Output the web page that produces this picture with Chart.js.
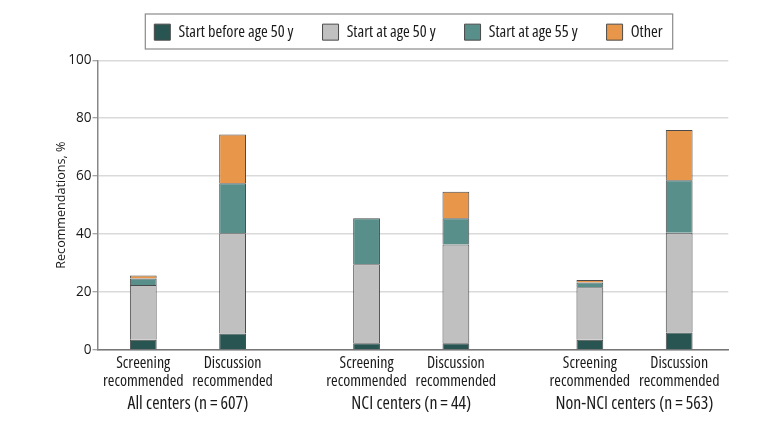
<!DOCTYPE html>
<html><head><meta charset="utf-8">
<script src="https://cdn.jsdelivr.net/npm/chart.js@4.4.1/dist/chart.umd.min.js"></script>
<style>html,body{margin:0;padding:0;background:#fff}#wrap{width:780px;height:423px}</style>
</head><body><div id="wrap"><canvas id="c" width="780" height="423"></canvas></div>
<script>
// ---- data ----
const groups = ['All centers (n\u2009=\u2009607)', 'NCI centers (n\u2009=\u200944)', 'Non-NCI centers (n\u2009=\u2009563)'];
const barTypes = [['Screening', 'recommended'], ['Discussion', 'recommended']];
const seriesNames = ['Start before age 50 y', 'Start at age 50 y', 'Start at age 55 y', 'Other'];
const screenBefore50 = [3.5, 2.3, 3.5];
const screenAt50 = [18.9, 27.3, 18.2];
const screenAt55 = [2.3, 15.9, 1.6];
const screenOther = [1.0, 0, 0.9];
const discBefore50 = [5.7, 2.3, 6.0];
const discAt50 = [34.6, 34.1, 34.5];
const discAt55 = [17.3, 9.1, 18.1];
const discOther = [16.8, 9.1, 17.3];
const yTicks = [0, 20, 40, 60, 80, 100];
const yTitle = 'Recommendations, %';

// ---- styles ----
const seriesColors = ['#285451', '#c0c0c0', '#588f8b', '#e8974a'];
const COND = "'Open Sans','Noto Sans',sans-serif";
const SANS = "'Open Sans','Noto Sans',sans-serif";
const CAT_PCT = 0.8;
const X_MIN = -0.405, X_MAX = 2.42;
const LEGEND_SHIFT = -4.4;

// font sizes fitted to the text widths of the reference
const mctx = document.createElement('canvas').getContext('2d');
function fitSize(text, prefix, family, target) {
  mctx.font = prefix + ' 100px ' + family;
  return Math.round(100 * target / mctx.measureText(text).width * 10) / 10;
}
const legendSize = fitSize(seriesNames[0], 'condensed', COND, 115);
const subSize = fitSize(barTypes[0][1], 'condensed', COND, 80.5);
const groupSize = (fitSize(groups[0], 'condensed', COND, 118) + fitSize(groups[2], 'condensed', COND, 161)) / 2;
const yTickSize = fitSize('100', 'normal', SANS, 23.4);
const yTitleSize = fitSize(yTitle, 'normal', SANS, 127);

const stacks = [
  { key: 'screening', series: [screenBefore50, screenAt50, screenAt55, screenOther] },
  { key: 'discussion', series: [discBefore50, discAt50, discAt55, discOther] }
];
const datasets = [];
stacks.forEach(st => st.series.forEach((vals, s) => datasets.push({
  label: seriesNames[s],
  stack: st.key,
  data: vals.map((v, i) => ({ x: i, y: v })),
  backgroundColor: seriesColors[s],
  borderColor: '#4a4a4a',
  borderWidth: { top: 1, left: 1, right: 1, bottom: 0 },
  borderSkipped: false,
  categoryPercentage: CAT_PCT,
  barPercentage: 0.3
})));

const subTickValues = [];
groups.forEach((g, i) => barTypes.forEach((b, j) => subTickValues.push(i + (j - 0.5) * CAT_PCT / 2)));

Chart.defaults.color = '#1a1a1a';

const legendFrame = {
  id: 'legendFrame',
  beforeInit(chart) {
    const lg = chart.legend;
    if (lg) {
      const f = lg.fit;
      lg.fit = function () { f.call(this); this.height += 10; };
      const d = lg.draw;
      lg.draw = function (area) {
        const ctx = this.ctx;
        ctx.save();
        ctx.translate(LEGEND_SHIFT, 0);
        d.call(this, area);
        ctx.restore();
      };
    }
  },
  afterDraw(chart) {
    const lg = chart.legend;
    const hb = lg && lg.legendHitBoxes;
    if (!hb || !hb.length) return;
    const first = hb[0], last = hb[hb.length - 1];
    const ctx = chart.ctx;
    ctx.save();
    ctx.strokeStyle = '#8a8a8a';
    ctx.lineWidth = 1.2;
    const l = first.left - 9 + LEGEND_SHIFT, r = last.left + last.width + 10 + LEGEND_SHIFT;
    const t = first.top - 10, b = first.top + first.height + 8.7;
    ctx.strokeRect(l, t, r - l, b - t);
    ctx.restore();
  }
};

new Chart(document.getElementById('c'), {
  type: 'bar',
  data: { datasets },
  plugins: [legendFrame],
  options: {
    responsive: false,
    animation: false,
    devicePixelRatio: 1,
    layout: { padding: { top: -5, right: 51.7, bottom: 11, left: 0 } },
    plugins: {
      tooltip: { enabled: false },
      legend: {
        position: 'top',
        fullSize: false,
        align: 'center',
        labels: {
          boxWidth: 16, boxHeight: 16, padding: 29, color: '#1a1a1a',
          font: { family: COND, weight: 'condensed', size: legendSize },
          generateLabels(chart) {
            const items = Chart.defaults.plugins.legend.labels.generateLabels(chart);
            return items.filter(it => it.datasetIndex < seriesNames.length)
              .map(it => ({ ...it, lineWidth: 1, strokeStyle: '#4a4a4a' }));
          }
        }
      }
    },
    scales: {
      x: {
        type: 'linear', offset: false, position: 'bottom', weight: 2, min: X_MIN, max: X_MAX,
        grid: { display: false, drawTicks: false }, border: { display: false },
        afterBuildTicks: s => { s.ticks = groups.map((_, i) => ({ value: i })); },
        ticks: {
          autoSkip: false, maxRotation: 0, padding: 0.5, color: '#1a1a1a',
          font: { family: COND, weight: 'condensed', size: groupSize, lineHeight: '16px' },
          callback: (v, i) => groups[i]
        }
      },
      x2: {
        type: 'linear', offset: false, position: 'bottom', weight: 1, min: X_MIN, max: X_MAX,
        grid: { display: false, drawTicks: false }, border: { display: true, color: '#777', width: 1.5 },
        afterBuildTicks: s => { s.ticks = subTickValues.map(v => ({ value: v })); },
        ticks: {
          autoSkip: false, maxRotation: 0, padding: 5, color: '#1a1a1a',
          font: { family: COND, weight: 'condensed', size: subSize, lineHeight: '17.5px' },
          callback: (v, i) => barTypes[i % barTypes.length]
        }
      },
      y: {
        min: 0, max: 100,
        afterBuildTicks: s => { s.ticks = yTicks.map(v => ({ value: v })); },
        afterFit: s => { s.width = 97.5; },
        grid: { color: '#dadada', lineWidth: 1.5, tickColor: '#888', tickLength: 5, tickWidth: 1 },
        border: { color: '#888', width: 1.5 },
        ticks: { padding: 1, color: '#1a1a1a', font: { family: SANS, weight: 'normal', size: yTickSize } },
        title: {
          display: true, text: yTitle, color: '#1a1a1a',
          font: { family: SANS, weight: 'normal', size: yTitleSize, lineHeight: 1.2 },
          padding: { top: 61.7 - yTitleSize * 0.6, bottom: 0 }
        }
      }
    }
  }
});
</script>
</body></html>
